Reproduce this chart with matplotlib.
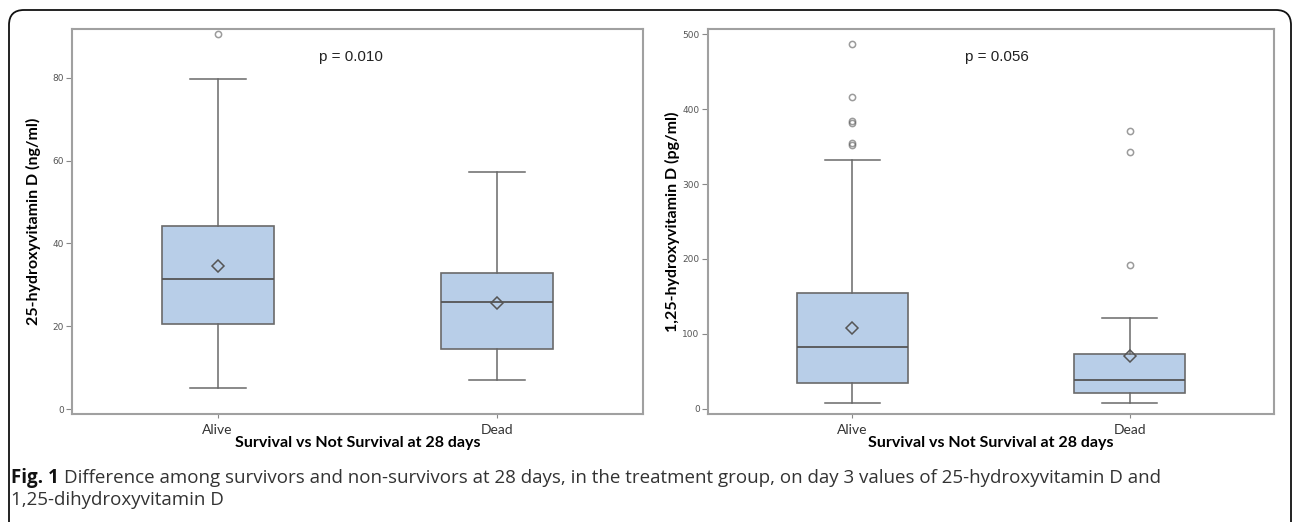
import matplotlib.pyplot as plt
from matplotlib.patches import FancyBboxPatch
from matplotlib.transforms import IdentityTransform

groups = ["Alive", "Dead"]

# 25-hydroxyvitamin D (ng/ml)
d25_whislo = [5.0, 7.0]
d25_q1 = [20.5, 14.6]
d25_med = [31.3, 25.9]
d25_q3 = [44.2, 32.8]
d25_whishi = [79.7, 57.2]
d25_mean = [34.6, 25.5]
d25_fliers = [[90.5], []]

# 1,25-hydroxyvitamin D (pg/ml)
d125_whislo = [7.5, 7.5]
d125_q1 = [35, 21]
d125_med = [82, 38.7]
d125_q3 = [155, 73]
d125_whishi = [331.5, 121]
d125_mean = [108, 70.7]
d125_fliers = [[352, 355, 382, 384, 416, 487], [191.5, 343, 371]]

W, H = 1292, 522
fig = plt.figure(figsize=(W / 100, H / 100), dpi=100)

box_face = '#b8cee8'
edge = '#6a6a6a'


def draw_panel(rect, whislo, q1, med, q3, whishi, mean, fliers, ylim, yticks,
               ylabel, ptext, px, ylab_x):
    ax = fig.add_axes(rect)
    stats = []
    for i, g in enumerate(groups):
        stats.append(dict(label=g, whislo=whislo[i], q1=q1[i], med=med[i],
                          q3=q3[i], whishi=whishi[i], mean=mean[i],
                          fliers=fliers[i]))
    ax.bxp(stats, positions=[1, 2], widths=0.4, patch_artist=True,
           showmeans=True, showfliers=True,
           boxprops=dict(facecolor=box_face, edgecolor=edge, linewidth=1.2),
           medianprops=dict(color='#555555', linewidth=1.3),
           whiskerprops=dict(color=edge, linewidth=1.1),
           capprops=dict(color=edge, linewidth=1.1),
           capwidths=0.2,
           meanprops=dict(marker='D', markerfacecolor='none',
                          markeredgecolor='#555555', markersize=6,
                          markeredgewidth=1.1),
           flierprops=dict(marker='o', markerfacecolor='none',
                           markeredgecolor=(0.35, 0.35, 0.35, 0.6),
                           markersize=4.5, markeredgewidth=1.1))
    ax.set_xlim(0.48, 2.52)
    ax.set_ylim(*ylim)
    ax.set_yticks(yticks)
    for s in ax.spines.values():
        s.set_color('#a0a0a0')
        s.set_linewidth(1.5)
    ax.tick_params(axis='y', labelsize=6.5, labelcolor='#555555', color='#888888',
                   length=4, width=0.8, pad=2)
    ax.tick_params(axis='x', labelsize=10, labelcolor='#333333', color='#888888',
                   length=3, width=0.8, pad=4)
    for t in ax.get_xticklabels():
        t.set_family('Lato')
    ax.set_ylabel(ylabel, family='Lato', fontweight='bold', fontsize=11.5,
                  va='center')
    ax.yaxis.set_label_coords(ylab_x, 0.5)
    ax.set_xlabel('Survival vs Not Survival at 28 days', family='Lato',
                  fontweight='bold', fontsize=11.5, va='center')
    ax.xaxis.set_label_coords(0.5, -0.075)
    ax.text(px, 0.927, ptext, transform=ax.transAxes, ha='center', va='center',
            family='Liberation Sans', fontsize=11, color='#222222')
    return ax


draw_panel([72 / W, 108 / H, 571 / W, 385 / H], d25_whislo, d25_q1, d25_med,
           d25_q3, d25_whishi, d25_mean, d25_fliers, (-1.2, 91.8),
           [0, 20, 40, 60, 80], '25-hydroxyvitamin D (ng/ml)', 'p = 0.010',
           0.489, -0.068)
draw_panel([708 / W, 108 / H, 566 / W, 385 / H], d125_whislo, d125_q1, d125_med,
           d125_q3, d125_whishi, d125_mean, d125_fliers, (-6.7, 506.7),
           [0, 100, 200, 300, 400, 500], '1,25-hydroxyvitamin D (pg/ml)',
           'p = 0.056', 0.511, -0.062)

# outer rounded frame
frame = FancyBboxPatch((9, -30), 1282, 512 + 30,
                       boxstyle='round,pad=0,rounding_size=15',
                       transform=IdentityTransform(), facecolor='none',
                       edgecolor='#111111', linewidth=1.3)
fig.add_artist(frame)

# caption
cap_font = 'Open Sans'
cap_size = 13.5
y1 = 1 - 478 / H
y2 = 1 - 500 / H
fig_lbl = fig.text(11 / W, y1, 'Fig. 1', family=cap_font, fontweight='bold',
                   fontsize=cap_size, va='center', color='#111111')
r = fig.canvas.get_renderer()
bb = fig_lbl.get_window_extent(r)
fig.text(bb.x1 / W + 5 / W, y1,
         'Difference among survivors and non-survivors at 28 days, in the '
         'treatment group, on day 3 values of 25-hydroxyvitamin D and',
         family=cap_font, fontsize=cap_size, va='center', color='#333333')
fig.text(11 / W, y2, '1,25-dihydroxyvitamin D', family=cap_font,
         fontsize=cap_size, va='center', color='#333333')

plt.savefig('out.png', dpi=100)
